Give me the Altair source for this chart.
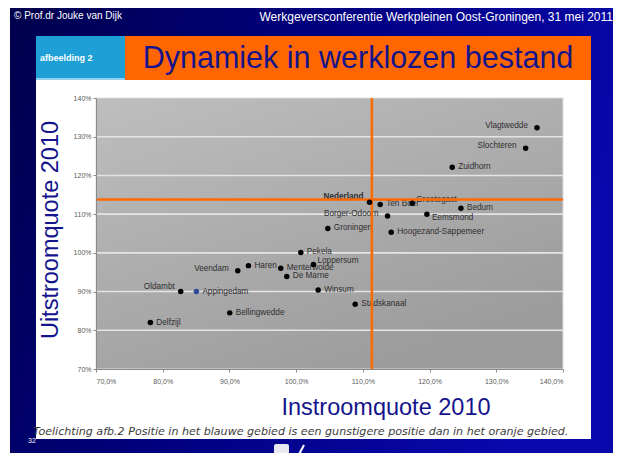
import altair as alt
import pandas as pd

# ---------------- data ----------------
names = ["Vlagtwedde", "Slochteren", "Zuidhorn", "Nederland", "Ten Boer", "Grootegast",
         "Bedum", "Borger-Odoorn", "Eemsmond", "Groningen", "Hoogezand-Sappemeer",
         "Pekela", "Loppersum", "Menterwolde", "De Marne", "Winsum", "Stadskanaal",
         "Haren", "Veendam", "Oldambt", "Appingedam", "Bellingwedde", "Delfzijl"]
instroom = [136.1, 134.4, 123.4, 111.0, 112.6, 117.4, 124.7, 113.7, 119.6, 104.75, 114.25,
            100.7, 102.6, 97.7, 98.6, 103.3, 108.85, 92.85, 91.25, 82.7, 85.05, 90.05, 78.15]
uitstroom = [132.3, 127.0, 122.1, 113.1, 112.5, 112.8, 111.5, 109.5, 110.0, 106.3, 105.3,
             100.1, 97.0, 96.0, 93.9, 90.4, 86.7, 96.7, 95.4, 90.0, 90.0, 84.5, 82.0]

left_labels = ["Vlagtwedde", "Slochteren", "Borger-Odoorn", "Veendam"]
left_above_labels = ["Nederland", "Oldambt"]
right_above_labels = ["Grootegast", "Loppersum"]
right_below_labels = ["Eemsmond"]
bold_labels = ["Nederland"]
blue_points = ["Appingedam"]

ref_instroom = 111.35   # vertical orange line
ref_uitstroom = 113.8   # horizontal orange line
y_grid = [80, 90, 100, 110, 120, 130]
x_ticks = [70, 80, 90, 100, 110, 120, 130, 140]
y_ticks = [70, 80, 90, 100, 110, 120, 130, 140]

title = "Dynamiek in werklozen bestand"
tag = "afbeelding 2"
header_left = "© Prof.dr Jouke van Dijk"
header_right = "Werkgeversconferentie Werkpleinen Oost-Groningen, 31 mei 2011"
x_title = "Instroomquote 2010"
y_title = "Uitstroomquote 2010"
footer = "Toelichting afb.2 Positie in het blauwe gebied is een gunstigere positie dan in het oranje gebied."
page_no = "32"

df = pd.DataFrame({"name": names, "instroom": instroom, "uitstroom": uitstroom})

def grp(n):
    if n in left_labels:
        return "left"
    if n in left_above_labels:
        return "left_above"
    if n in right_above_labels:
        return "right_above"
    if n in right_below_labels:
        return "right_below"
    return "right"

df["grp"] = [grp(n) for n in names]
df["bold"] = [n in bold_labels for n in names]
df["blue"] = [n in blue_points for n in names]

W, H = 467, 271
one = alt.Data(values=[{}])

xs = alt.Scale(domain=[70, 140], nice=False, zero=False)
ys = alt.Scale(domain=[70, 140], nice=False, zero=False)

xaxis = alt.Axis(values=x_ticks, grid=False, domainColor="#8a8a8a", tickColor="#8a8a8a",
                 tickSize=3, labelFontSize=7, labelColor="#5a5a5a", labelPadding=5,
                 labelFont="Liberation Sans", zindex=1, labelOverlap=False, title=None,
                 labelExpr="replace(format(datum.value, '.1f'), '.', ',') + '%'")
yaxis = alt.Axis(values=y_ticks, grid=False, domainColor="#8a8a8a", tickColor="#8a8a8a",
                 tickSize=3, labelFontSize=7, labelColor="#5a5a5a", labelPadding=2,
                 labelFont="Liberation Sans", zindex=1, labelOverlap=False, title=None,
                 labelExpr="format(datum.value, 'd') + '%'")

# ---------------- slide decoration ----------------
navy = alt.Chart(one).mark_rect(
    fill=alt.Gradient(gradient="linear", x1=0, y1=0, x2=1, y2=0.3,
                      stops=[alt.GradientStop(color="#00004c", offset=0),
                             alt.GradientStop(color="#00007c", offset=0.45),
                             alt.GradientStop(color="#0808ac", offset=1)])
).encode(x=alt.value(-86), x2=alt.value(530), y=alt.value(-95), y2=alt.value(370))

white = alt.Chart(one).mark_rect(fill="white").encode(
    x=alt.value(-60), x2=alt.value(495), y=alt.value(-62), y2=alt.value(341))

tagbox = alt.Chart(one).mark_rect(fill="#1e9fd6").encode(
    x=alt.value(-60), x2=alt.value(29), y=alt.value(-62), y2=alt.value(-20))
tagline = alt.Chart(one).mark_rect(fill="#8fd0ee").encode(
    x=alt.value(-60), x2=alt.value(29), y=alt.value(-20), y2=alt.value(-18))
titlebox = alt.Chart(one).mark_rect(fill="#ff6600").encode(
    x=alt.value(29), x2=alt.value(495), y=alt.value(-62), y2=alt.value(-18))

def label(txt, x, y, **kw):
    return alt.Chart(one).mark_text(text=txt, **kw).encode(x=alt.value(x), y=alt.value(y))

t_title = label(title, 262, -39, font="Liberation Sans", fontSize=30.5, color="#14148c",
                align="center", baseline="middle")
t_tag = label(tag, -56, -40, font="Liberation Sans", fontSize=9, fontWeight="bold",
              color="white", align="left", baseline="middle")
t_hl = label(header_left, -82, -82, font="Liberation Sans", fontSize=10, color="white",
             align="left", baseline="middle")
t_hr = label(header_right, 517, -81, font="Liberation Sans", fontSize=12, color="white",
             align="right", baseline="middle")
t_xt = label(x_title, 290, 310, font="Liberation Sans", fontSize=23.5, color="#14148c",
             align="center", baseline="middle")
t_yt = label(y_title, -45, 132, font="Liberation Sans", fontSize=23.5, color="#14148c",
             align="center", baseline="middle", angle=270)
t_ft = label(footer, -63, 337, font="DejaVu Sans", fontSize=11.1, fontStyle="italic",
             color="#3c3c3c", align="left", baseline="alphabetic")
t_pg = label(page_no, -68, 343, font="Liberation Sans", fontSize=7, color="white",
             align="left", baseline="middle")
shield = alt.Chart(one).mark_rect(fill="#e8e8f0", cornerRadius=2).encode(
    x=alt.value(178), x2=alt.value(193), y=alt.value(346), y2=alt.value(362))
slash = alt.Chart(one).mark_rule(color="white", strokeWidth=2).encode(
    x=alt.value(200), x2=alt.value(208), y=alt.value(362), y2=alt.value(347))

# ---------------- plot area ----------------
plotbg = alt.Chart(one).mark_rect(
    fill=alt.Gradient(gradient="linear", x1=0, y1=0, x2=0.6, y2=1,
                      stops=[alt.GradientStop(color="#bebebe", offset=0),
                             alt.GradientStop(color="#9c9c9c", offset=1)]),
    stroke="#dcdcdc", strokeWidth=1
).encode(x=alt.value(0), x2=alt.value(W), y=alt.value(0), y2=alt.value(H))

grid = alt.Chart(pd.DataFrame({"g": y_grid})).mark_rule(color="#e4e4e4", strokeWidth=1.6).encode(
    y=alt.Y("g:Q", scale=ys, axis=yaxis), x=alt.value(0), x2=alt.value(W))

base = alt.Chart(df).encode(x=alt.X("instroom:Q", scale=xs, axis=xaxis),
                            y=alt.Y("uitstroom:Q", scale=ys, axis=yaxis))

lab_kw = dict(font="Liberation Sans", fontSize=8.2, color="#2e2e2e", baseline="middle")
lab_r = base.mark_text(align="left", dx=6, dy=0, **lab_kw).encode(text="name:N").transform_filter(
    "datum.grp == 'right'")
lab_ra = base.mark_text(align="left", dx=4, dy=-3, **lab_kw).encode(text="name:N").transform_filter(
    "datum.grp == 'right_above'")
lab_rb = base.mark_text(align="left", dx=5, dy=4, **lab_kw).encode(text="name:N").transform_filter(
    "datum.grp == 'right_below'")
lab_l = base.mark_text(align="right", dx=-9, dy=-2, **lab_kw).encode(text="name:N").transform_filter(
    "datum.grp == 'left'")
lab_la = base.mark_text(align="right", dx=-6, dy=-5, **lab_kw).encode(text="name:N").transform_filter(
    "datum.grp == 'left_above' && !datum.bold")
lab_lab = base.mark_text(align="right", dx=-6, dy=-5, fontWeight="bold", **lab_kw).encode(
    text="name:N").transform_filter("datum.grp == 'left_above' && datum.bold")

vline = alt.Chart(pd.DataFrame({"v": [ref_instroom]})).mark_rule(color="#ff6a00", strokeWidth=2.5).encode(
    x=alt.X("v:Q", scale=xs, axis=xaxis), y=alt.value(0), y2=alt.value(H))
hline = alt.Chart(pd.DataFrame({"h": [ref_uitstroom]})).mark_rule(color="#ff6a00", strokeWidth=2.5).encode(
    y=alt.Y("h:Q", scale=ys, axis=yaxis), x=alt.value(0), x2=alt.value(W))

pts = base.mark_circle(size=30, opacity=1).encode(
    color=alt.condition("datum.blue", alt.value("#2b4a9a"), alt.value("#000000")))

chart = alt.layer(
    navy, white, tagbox, tagline, titlebox, t_title, t_tag, t_hl, t_hr, t_xt, t_yt, t_ft, t_pg,
    shield, slash,
    plotbg, grid, lab_r, lab_ra, lab_rb, lab_l, lab_la, lab_lab, vline, hline, pts
).resolve_scale(x="shared", y="shared").properties(
    width=W, height=H,
    padding={"left": 88, "top": 90, "right": 50, "bottom": 84},
    autosize=alt.AutoSizeParams(type="none"),
    background="white",
).configure_view(stroke=None)

chart.save("out.html", embed_options={"renderer": "svg", "actions": False})
